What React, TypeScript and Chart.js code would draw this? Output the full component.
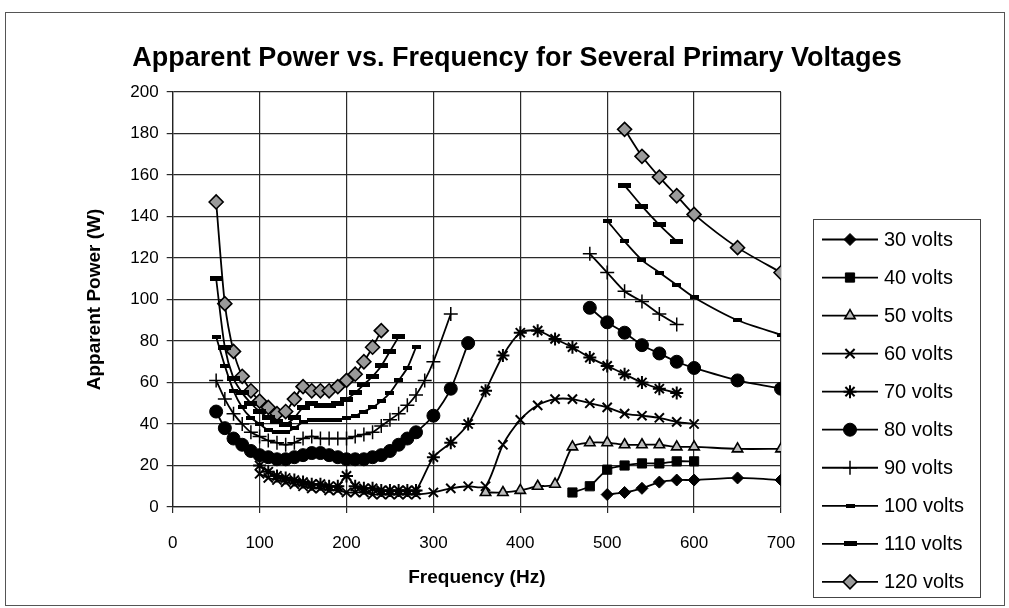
import React, { useEffect, useRef } from 'react';
import { Chart, registerables } from 'chart.js';
import { drawPoint } from 'chart.js/helpers';

Chart.register(...registerables);

// ---- Data (frequency in Hz, apparent power in W) ----
const freq30 = [500, 520, 540, 560, 580, 600, 650, 700];
const pow30 = [6, 7, 9, 12, 13, 13, 14, 13];

const freq40 = [460, 480, 500, 520, 540, 560, 580, 600];
const pow40 = [7, 10, 18, 20, 21, 21, 22, 22];

const freq50 = [360, 380, 400, 420, 440, 460, 480, 500, 520, 540, 560, 580, 600, 650, 700];
const pow50 = [7, 7, 8, 10, 11, 29, 31, 31, 30, 30, 30, 29, 29, 28, 28];

const freq60 = [100, 110, 120, 130, 140, 150, 160, 170, 180, 190, 200, 210, 220, 230, 240, 250, 260, 270, 280, 300, 320, 340, 360, 380, 400, 420, 440, 460, 480, 500, 520, 540, 560, 580, 600];
const pow60 = [16, 14, 13, 12, 11, 10, 9, 9, 8, 8, 7, 7, 7, 6, 6, 6, 6, 6, 6, 7, 9, 10, 10, 30, 42, 49, 52, 52, 50, 48, 45, 44, 43, 41, 40];

const freq70 = [100, 110, 120, 130, 140, 150, 160, 170, 180, 190, 200, 210, 220, 230, 240, 250, 260, 270, 280, 300, 320, 340, 360, 380, 400, 420, 440, 460, 480, 500, 520, 540, 560, 580];
const pow70 = [20, 17, 15, 14, 13, 12, 11, 11, 10, 10, 15, 10, 9, 9, 8, 8, 8, 8, 8, 24, 31, 40, 56, 73, 84, 85, 81, 77, 72, 68, 64, 60, 57, 55];

const freq80Low = [50, 60, 70, 80, 90, 100, 110, 120, 130, 140, 150, 160, 170, 180, 190, 200, 210, 220, 230, 240, 250, 260, 270, 280, 300, 320, 340];
const pow80Low = [46, 38, 33, 30, 27, 25, 24, 23, 23, 24, 25, 26, 26, 25, 24, 23, 23, 23, 24, 25, 27, 30, 33, 36, 44, 57, 79];
const freq80High = [480, 500, 520, 540, 560, 580, 600, 650, 700];
const pow80High = [96, 89, 84, 78, 74, 70, 67, 61, 57];

const freq90Low = [50, 60, 70, 80, 90, 100, 110, 120, 130, 140, 150, 160, 170, 180, 190, 200, 210, 220, 230, 240, 250, 260, 270, 280, 290, 300, 320];
const pow90Low = [61, 52, 45, 40, 36, 34, 32, 31, 30, 31, 33, 34, 33, 33, 33, 33, 34, 35, 36, 39, 42, 45, 49, 54, 61, 70, 93];
const freq90High = [480, 500, 520, 540, 560, 580];
const pow90High = [122, 113, 104, 99, 93, 88];

const freq100Low = [50, 60, 70, 80, 90, 100, 110, 120, 130, 140, 150, 160, 170, 180, 190, 200, 210, 220, 230, 240, 250, 260, 270, 280];
const pow100Low = [82, 68, 56, 48, 43, 40, 37, 36, 36, 38, 41, 42, 42, 42, 42, 43, 44, 46, 48, 51, 55, 61, 67, 77];
const freq100High = [500, 520, 540, 560, 580, 600, 650, 700];
const pow100High = [138, 128, 119, 113, 107, 101, 90, 83];

const freq110Low = [50, 60, 70, 80, 90, 100, 110, 120, 130, 140, 150, 160, 170, 180, 190, 200, 210, 220, 230, 240, 250, 260];
const pow110Low = [110, 77, 62, 55, 50, 46, 43, 41, 40, 43, 48, 50, 49, 49, 50, 52, 55, 59, 63, 68, 75, 82];
const freq110High = [520, 540, 560, 580];
const pow110High = [155, 145, 136, 128];

const freq120Low = [50, 60, 70, 80, 90, 100, 110, 120, 130, 140, 150, 160, 170, 180, 190, 200, 210, 220, 230, 240];
const pow120Low = [147, 98, 75, 63, 56, 51, 48, 45, 46, 52, 58, 56, 56, 56, 58, 61, 64, 70, 77, 85];
const freq120High = [520, 540, 560, 580, 600, 650, 700];
const pow120High = [182, 169, 159, 150, 141, 125, 113];

const seriesLabels = ['30 volts', '40 volts', '50 volts', '60 volts', '70 volts', '80 volts', '90 volts', '100 volts', '110 volts', '120 volts'];
const xTicks = [0, 100, 200, 300, 400, 500, 600, 700];
const yTicks = [0, 20, 40, 60, 80, 100, 120, 140, 160, 180, 200];

const titleText = 'Apparent Power vs. Frequency for Several Primary Voltages';
const xTitle = 'Frequency (Hz)';
const yTitle = 'Apparent Power (W)';

function pts(f: number[], p: number[]) {
  return f.map((x, i) => ({ x, y: p[i] }));
}
function gapped(f1: number[], p1: number[], f2: number[], p2: number[]) {
  return [...pts(f1, p1), { x: (f1[f1.length - 1] + f2[0]) / 2, y: null }, ...pts(f2, p2)];
}

function makeBar(w: number, h: number) {
  const c = document.createElement('canvas');
  c.width = w;
  c.height = h;
  const g = c.getContext('2d')!;
  g.fillStyle = '#000';
  g.fillRect(0, 0, w, h);
  return c;
}

export default function App() {
  const ref = useRef<HTMLCanvasElement | null>(null);

  useEffect(() => {
    if (!ref.current) return;
    const bar100 = makeBar(9, 4);
    const bar110 = makeBar(13, 5);

    type Sty = { pointStyle: any; radius: number; bg: string; bw: number };
    const styles: Sty[] = [
      { pointStyle: 'rectRot', radius: 6, bg: '#000', bw: 1 },
      { pointStyle: 'rect', radius: 6.5, bg: '#000', bw: 1 },
      { pointStyle: 'triangle', radius: 6, bg: '#bdbdbd', bw: 1.6 },
      { pointStyle: 'crossRot', radius: 6.5, bg: '#000', bw: 2 },
      { pointStyle: 'star', radius: 6.5, bg: '#000', bw: 2 },
      { pointStyle: 'circle', radius: 6.5, bg: '#000', bw: 1 },
      { pointStyle: 'cross', radius: 7, bg: '#000', bw: 1.5 },
      { pointStyle: bar100, radius: 5, bg: '#000', bw: 1 },
      { pointStyle: bar110, radius: 6, bg: '#000', bw: 1 },
      { pointStyle: 'rectRot', radius: 7, bg: '#9a9a9a', bw: 1.6 },
    ];

    const dataSets = [
      pts(freq30, pow30),
      pts(freq40, pow40),
      pts(freq50, pow50),
      pts(freq60, pow60),
      pts(freq70, pow70),
      gapped(freq80Low, pow80Low, freq80High, pow80High),
      gapped(freq90Low, pow90Low, freq90High, pow90High),
      gapped(freq100Low, pow100Low, freq100High, pow100High),
      gapped(freq110Low, pow110Low, freq110High, pow110High),
      gapped(freq120Low, pow120Low, freq120High, pow120High),
    ];

    const datasets = dataSets.map((d, i) => ({
      label: seriesLabels[i],
      data: d as any,
      borderColor: '#000',
      borderWidth: 1.8,
      backgroundColor: styles[i].bg,
      pointStyle: styles[i].pointStyle,
      pointRadius: styles[i].radius,
      pointBackgroundColor: styles[i].bg,
      pointBorderColor: '#000',
      pointBorderWidth: styles[i].bw,
      tension: 0.25,
      spanGaps: false,
      fill: false,
    }));

    const decor = {
      id: 'decor',
      beforeDraw(chart: any) {
        const ctx = chart.ctx;
        ctx.save();
        ctx.fillStyle = '#fff';
        ctx.fillRect(0, 0, chart.width, chart.height);
        ctx.restore();
      },
      afterDraw(chart: any) {
        const ctx = chart.ctx as CanvasRenderingContext2D;
        const area = chart.chartArea;
        ctx.save();
        // outer frame
        ctx.strokeStyle = '#555';
        ctx.lineWidth = 1;
        ctx.strokeRect(5.5, 12.5, 999, 593);
        // title
        ctx.fillStyle = '#000';
        ctx.textAlign = 'center';
        ctx.textBaseline = 'middle';
        ctx.font = 'bold 27px "Liberation Sans", Arial, sans-serif';
        ctx.fillText(titleText, 517, 59);
        // x title
        ctx.font = 'bold 19px "Liberation Sans", Arial, sans-serif';
        ctx.fillText(xTitle, (area.left + area.right) / 2, 578);
        // y title
        ctx.save();
        ctx.translate(95, (area.top + area.bottom) / 2);
        ctx.rotate(-Math.PI / 2);
        ctx.fillText(yTitle, 0, 0);
        ctx.restore();
        // legend box
        ctx.strokeStyle = '#444';
        ctx.lineWidth = 1;
        ctx.strokeRect(813.5, 219.5, 167, 378);
        ctx.font = '20px "Liberation Sans", Arial, sans-serif';
        ctx.textAlign = 'left';
        for (let i = 0; i < seriesLabels.length; i++) {
          const y = 239.5 + i * 38.04;
          ctx.strokeStyle = '#000';
          ctx.lineWidth = 1.8;
          ctx.beginPath();
          ctx.moveTo(822, y);
          ctx.lineTo(878, y);
          ctx.stroke();
          ctx.fillStyle = styles[i].bg;
          ctx.strokeStyle = '#000';
          ctx.lineWidth = styles[i].bw;
          drawPoint(ctx, { pointStyle: styles[i].pointStyle, radius: styles[i].radius, rotation: 0, borderWidth: styles[i].bw } as any, 850, y);
          ctx.fillStyle = '#000';
          ctx.fillText(seriesLabels[i], 884, y + 1);
        }
        ctx.restore();
      },
    };

    const chart = new Chart(ref.current, {
      type: 'line',
      data: { datasets },
      options: {
        animation: false,
        responsive: false,
        events: [],
        layout: { padding: { left: 72.7, top: 92, right: 228, bottom: 41 } },
        plugins: { legend: { display: false }, title: { display: false }, tooltip: { enabled: false } },
        scales: {
          x: {
            type: 'linear',
            min: 0,
            max: 700,
            afterFit: (s: any) => { s.height = 60; },
            afterBuildTicks: (s: any) => { s.ticks = xTicks.map((v) => ({ value: v })); },
            ticks: { color: '#000', padding: 20, font: { family: '"Liberation Sans", Arial, sans-serif', size: 17 }, maxRotation: 0 },
            grid: { color: '#2a2a2a', lineWidth: 1.2, tickLength: 6, drawTicks: true, tickColor: '#2a2a2a' },
            border: { color: '#222', width: 1.3 },
          },
          y: {
            type: 'linear',
            min: 0,
            max: 200,
            afterFit: (s: any) => { s.width = 100; },
            afterBuildTicks: (s: any) => { s.ticks = yTicks.map((v) => ({ value: v })); },
            ticks: { color: '#000', padding: 8, font: { family: '"Liberation Sans", Arial, sans-serif', size: 17 } },
            grid: { color: '#2a2a2a', lineWidth: 1.2, tickLength: 6, drawTicks: true, tickColor: '#2a2a2a' },
            border: { color: '#222', width: 1.3 },
          },
        },
      },
      plugins: [decor],
    });
    return () => chart.destroy();
  }, []);

  return (
    <div style={{ position: 'absolute', left: 0, top: 0, width: 1009, height: 608 }}>
      <canvas ref={ref} width={1009} height={608} style={{ display: 'block', width: 1009, height: 608 }} />
    </div>
  );
}
